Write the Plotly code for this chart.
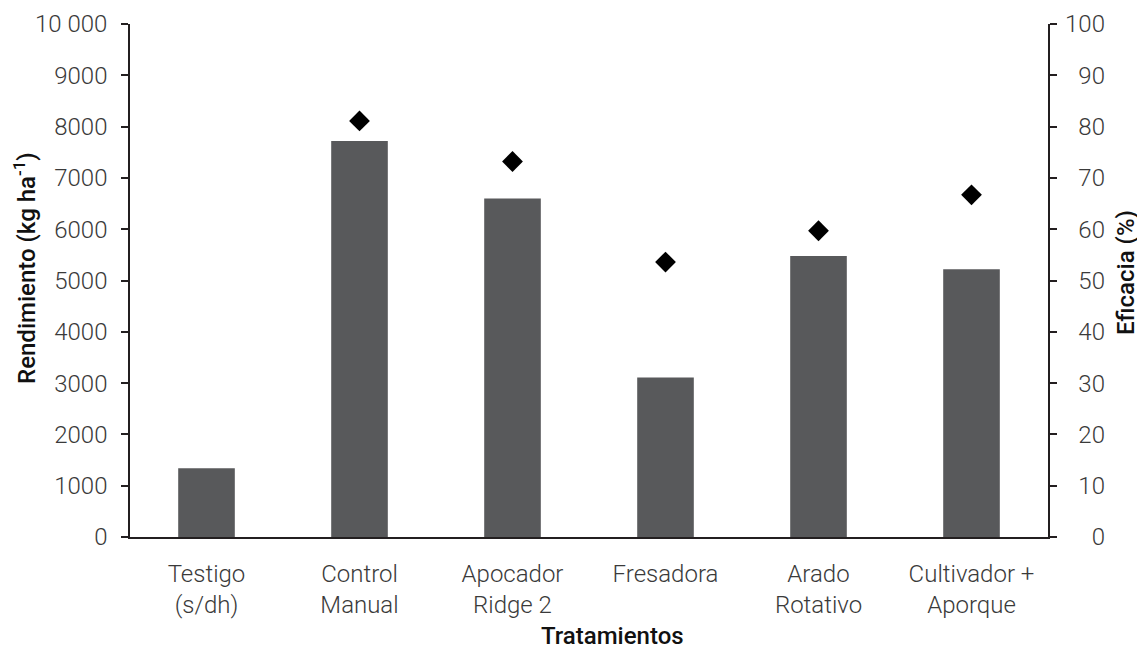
import plotly.graph_objects as go

categories = ["Testigo<br>(s/dh)", "Control<br>Manual", "Apocador<br>Ridge 2", "Fresadora",
              "Arado<br>Rotativo", "Cultivador +<br>Aporque"]
rendimiento = [1340, 7720, 6600, 3110, 5480, 5220]
eficacia = [None, 81.1, 73.2, 53.6, 59.7, 66.7]

left_tickvals = [0, 1000, 2000, 3000, 4000, 5000, 6000, 7000, 8000, 9000, 10000]
left_ticktext = ["0", "1000", "2000", "3000", "4000", "5000", "6000", "7000", "8000", "9000", "10 000"]
right_tickvals = [0, 10, 20, 30, 40, 50, 60, 70, 80, 90, 100]

x_title = "Tratamientos"
y_title = "Rendimiento (kg ha<sup>-1</sup>)"
y2_title = "Eficacia (%)"

BAR = "#58595b"
AX = "#231f20"
TXT = "#3a3a3a"
tick_font = dict(family="Roboto", size=24, color=TXT, weight=300)
title_font = dict(family="Roboto", size=24, color="#111111", weight=500)

fig = go.Figure()
fig.add_trace(go.Bar(x=categories, y=rendimiento, marker=dict(color=BAR, line=dict(width=0)),
                     width=0.37, yaxis="y", showlegend=False))
# right axis line/ticks (invisible helper trace so the axis is drawn)
fig.add_trace(go.Scatter(x=categories, y=eficacia, mode="markers", yaxis="y2",
                         marker=dict(opacity=0), hoverinfo="skip", showlegend=False))
fig.add_trace(go.Scatter(x=categories, y=eficacia, mode="markers", yaxis="y3",
                         marker=dict(symbol="diamond", size=16, color="black"), showlegend=False))

fig.update_layout(
    width=1145, height=653,
    margin=dict(l=122, r=35, t=16, b=124, autoexpand=False),
    plot_bgcolor="white", paper_bgcolor="white",
    xaxis=dict(domain=[0, 0.92915], showline=True, linecolor=AX, linewidth=1.5, ticks="",
               tickfont=tick_font, ticklabelstandoff=14, showgrid=False, zeroline=False,
               automargin=False),
    yaxis=dict(range=[0, 10000], tickvals=left_tickvals, ticktext=left_ticktext,
               showline=True, linecolor=AX, linewidth=1.5, ticks="outside", ticklen=7,
               tickcolor=AX, tickwidth=1.5, tickfont=tick_font, ticklabelstandoff=9,
               showgrid=False, zeroline=False, automargin=False),
    yaxis2=dict(range=[0, 100], tickvals=right_tickvals, overlaying="y", side="right", anchor="x",
                showline=True, linecolor=AX, linewidth=1.5, ticks="outside", ticklen=7,
                tickcolor=AX, tickwidth=1.5, showticklabels=False,
                showgrid=False, zeroline=False, automargin=False),
    yaxis3=dict(range=[0, 100], tickvals=right_tickvals, overlaying="y", side="left",
                anchor="free", position=0.98684, showline=False, ticks="",
                tickfont=tick_font, ticklabelstandoff=0, showgrid=False, zeroline=False,
                automargin=False),
    annotations=[
        dict(text=x_title, xref="paper", yref="paper", x=0.4879, y=-0.193,
             xanchor="center", yanchor="middle", showarrow=False, font=title_font),
        dict(text=y_title, xref="paper", yref="paper", x=-0.1063, y=0.5244, textangle=-90,
             xanchor="center", yanchor="middle", showarrow=False, font=title_font),
        dict(text=y2_title, xref="paper", yref="paper", x=1.0081, y=0.5146, textangle=-90,
             xanchor="center", yanchor="middle", showarrow=False, font=title_font),
    ],
)

fig.write_html("out.html")
